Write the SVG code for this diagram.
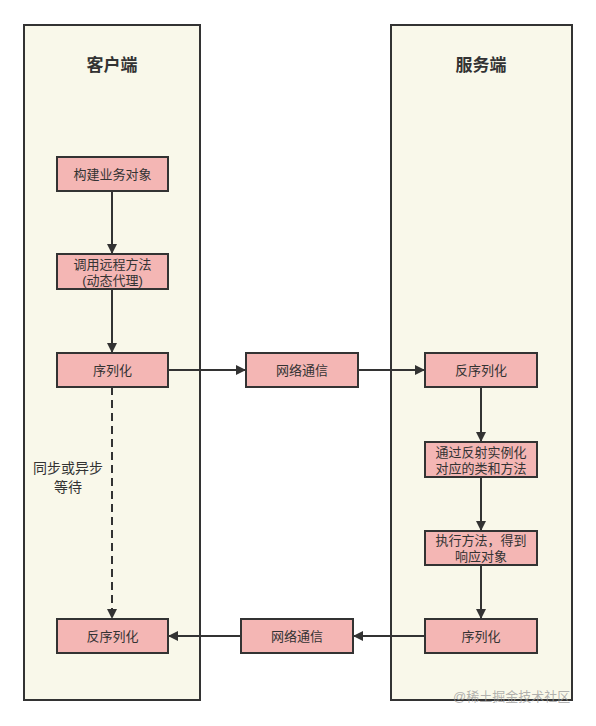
<svg xmlns="http://www.w3.org/2000/svg" width="596" height="726" viewBox="0 0 596 726">
<style>
.panel{fill:#f9f8ea;stroke:#333;stroke-width:2}
.box{fill:#f4b6b4;stroke:#333;stroke-width:2}
.t{font-family:"Liberation Sans","Noto Sans CJK SC",sans-serif;font-size:13px;fill:#333;text-anchor:middle}
.title{font-family:"Liberation Sans","Noto Sans CJK SC",sans-serif;font-size:17px;font-weight:bold;fill:#333;text-anchor:middle}
.lbl{font-family:"Liberation Sans","Noto Sans CJK SC",sans-serif;font-size:14px;fill:#333;text-anchor:middle}
.c{stroke:#333;stroke-width:2;fill:none;marker-end:url(#arr)}
.wm{font-family:"Liberation Sans","Noto Sans CJK SC",sans-serif;font-size:13px;fill:#999;fill-opacity:0.75}
</style>
<defs>
<marker id="arr" viewBox="0 0 10 10" refX="10" refY="5" markerWidth="6" markerHeight="5" orient="auto" markerUnits="strokeWidth">
<path d="M0,0 L10,5 L0,10 z" fill="#333"/>
</marker>
</defs>
<rect width="596" height="726" fill="#fff"/>
<g id="client">
<rect class="panel" x="24" y="25" width="176" height="675"/>
<text class="title" x="112" y="71">客户端</text>
</g>
<g id="server">
<rect class="panel" x="391" y="25" width="181" height="675"/>
<text class="title" x="481" y="71">服务端</text>
</g>
<g id="connectors">
<line class="c" x1="112" y1="191" x2="112" y2="254"/>
<line class="c" x1="112" y1="289" x2="112" y2="353"/>
<line class="c" x1="168" y1="370" x2="246" y2="370"/>
<line class="c" x1="358" y1="370" x2="425" y2="370"/>
<line class="c" x1="481" y1="387" x2="481" y2="442"/>
<line class="c" x1="481" y1="477" x2="481" y2="531"/>
<line class="c" x1="481" y1="565" x2="481" y2="619"/>
<line class="c" x1="425" y1="636" x2="353" y2="636"/>
<line class="c" x1="241" y1="636" x2="168" y2="636"/>
<line class="c" x1="112" y1="387" x2="112" y2="619" stroke-dasharray="8,5"/>
<rect x="31" y="455" width="74" height="40" fill="#f9f8ea"/>
<text class="lbl" x="68" y="473">同步或异步</text>
<text class="lbl" x="68" y="492">等待</text>
</g>
<g id="n1"><rect class="box" x="57" y="157" width="111" height="34"/><text class="t" x="112.5" y="178.5">构建业务对象</text></g>
<g id="n2"><rect class="box" x="57" y="254" width="111" height="35"/><text class="t" x="112.5" y="268.5">调用远程方法</text><text class="t" x="112.5" y="284.5">(动态代理)</text></g>
<g id="n3"><rect class="box" x="57" y="353" width="111" height="34"/><text class="t" x="112.5" y="374.5">序列化</text></g>
<g id="n4"><rect class="box" x="246" y="353" width="112" height="34"/><text class="t" x="302" y="374.5">网络通信</text></g>
<g id="n5"><rect class="box" x="425" y="353" width="112" height="34"/><text class="t" x="481" y="374.5">反序列化</text></g>
<g id="n6"><rect class="box" x="425" y="442" width="112" height="35"/><text class="t" x="481" y="456.5">通过反射实例化</text><text class="t" x="481" y="472.5">对应的类和方法</text></g>
<g id="n7"><rect class="box" x="425" y="531" width="112" height="34"/><text class="t" x="481" y="545">执行方法，得到</text><text class="t" x="481" y="561">响应对象</text></g>
<g id="n8"><rect class="box" x="425" y="619" width="112" height="34"/><text class="t" x="481" y="640.5">序列化</text></g>
<g id="n9"><rect class="box" x="241" y="619" width="112" height="34"/><text class="t" x="297" y="640.5">网络通信</text></g>
<g id="n10"><rect class="box" x="57" y="619" width="111" height="34"/><text class="t" x="112.5" y="640.5">反序列化</text></g>
<text class="wm" x="453" y="701">@稀土掘金技术社区</text>
</svg>
